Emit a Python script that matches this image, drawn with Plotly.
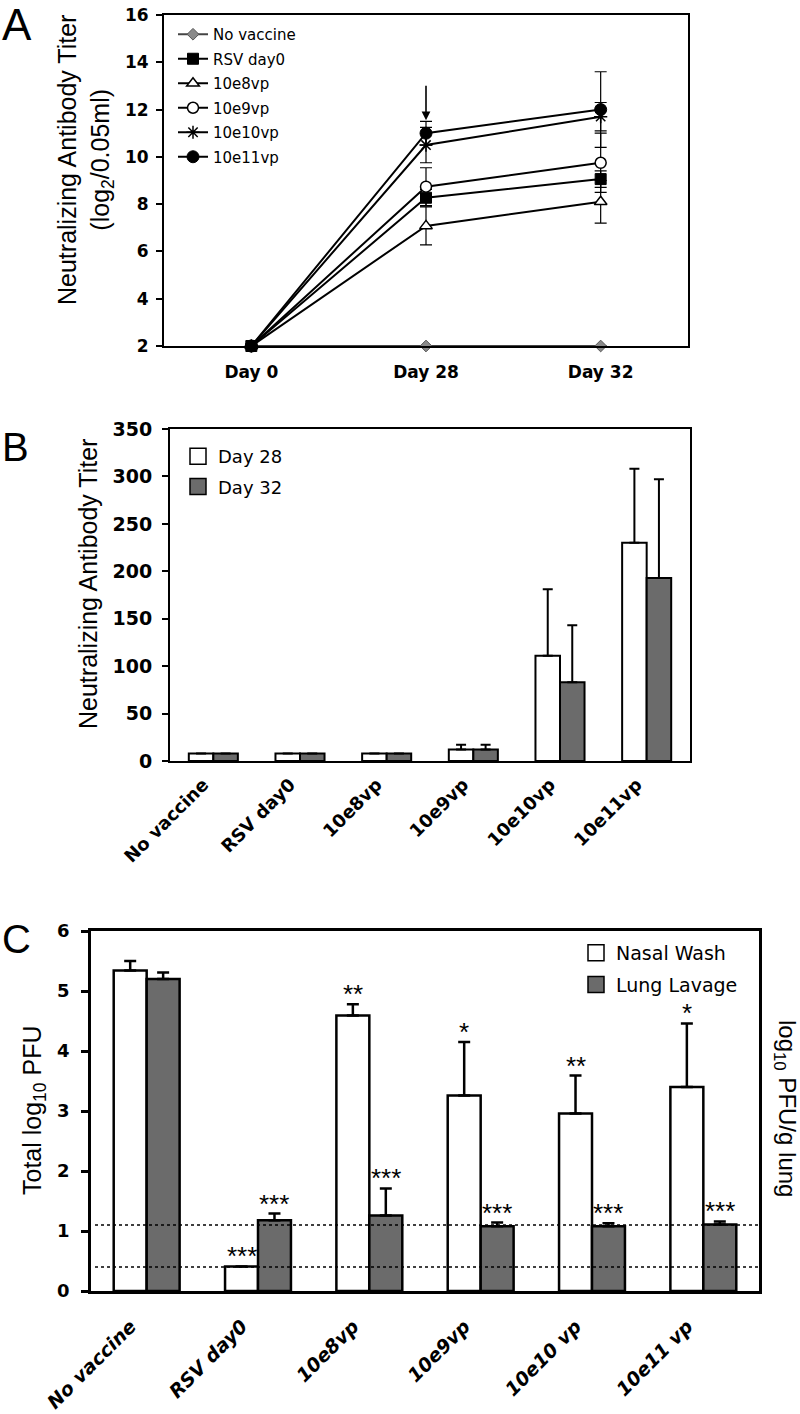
import plotly.graph_objects as go

W, H = 800, 1414

# ---------------- Data ----------------
# Panel A
days = ["Day 0", "Day 28", "Day 32"]
a_series = ["No vaccine", "RSV day0", "10e8vp", "10e9vp", "10e10vp", "10e11vp"]
a_no_vaccine = [2, 2, 2]
a_rsv = [2, 8.27, 9.06]
a_e8 = [2, 7.08, 8.1]
a_e9 = [2, 8.74, 9.75]
a_e10 = [2, 10.5, 11.7]
a_e11 = [2, 11.0, 12.0]
a_no_vaccine_err = [0, 0, 0]
a_rsv_err = [0, 0.35, 0.35]
a_e8_err = [0, 0.8, 0.9]
a_e9_err = [0, 0.8, 1.25]
a_e10_err = [0, 0.75, 0.6]
a_e11_err = [0, 0.5, 1.6]

# Panel B
groups = ["No vaccine", "RSV day0", "10e8vp", "10e9vp", "10e10vp", "10e11vp"]
b_day28 = [8, 8, 8, 12, 111, 230]
b_day28_err = [0, 0, 0, 5, 70, 78]
b_day32 = [8, 8, 8, 12, 83, 193]
b_day32_err = [0, 0, 0, 5, 60, 104]

# Panel C
c_groups = ["No vaccine", "RSV day0", "10e8vp", "10e9vp", "10e10 vp", "10e11 vp"]
c_nasal = [5.34, 0.41, 4.59, 3.26, 2.96, 3.40]
c_nasal_err = [0.16, 0, 0.19, 0.89, 0.63, 1.06]
c_lung = [5.20, 1.18, 1.26, 1.08, 1.08, 1.11]
c_lung_err = [0.11, 0.11, 0.45, 0.06, 0.05, 0.05]
c_nasal_sig = ["", "***", "**", "*", "**", "*"]
c_lung_sig = ["", "***", "***", "***", "***", "***"]
c_limits = [1.1, 0.4]

GREY = "#6b6b6b"
TICKFONT = "DejaVu Sans"
TITLEFONT = "Liberation Sans"


def px_x(p):
    return p / W


def px_y(p):
    return 1 - p / H


fig = go.Figure()

# ---------------- Panel A ----------------
a_values = [a_no_vaccine, a_rsv, a_e8, a_e9, a_e10, a_e11]
a_errs = [a_no_vaccine_err, a_rsv_err, a_e8_err, a_e9_err, a_e10_err, a_e11_err]
a_markers = [
    dict(symbol="diamond", size=9, color="#8a8a8a", line=dict(color="#555555", width=1)),
    dict(symbol="square", size=11, color="black", line=dict(color="black", width=1)),
    dict(symbol="triangle-up", size=11, color="white", line=dict(color="black", width=1.5)),
    dict(symbol="circle", size=11, color="white", line=dict(color="black", width=1.5)),
    dict(symbol="asterisk-open", size=11, color="black", line=dict(color="black", width=1.5)),
    dict(symbol="circle", size=12, color="black", line=dict(color="black", width=1)),
]
for i, (name, vals, errs, mk) in enumerate(zip(a_series, a_values, a_errs, a_markers)):
    fig.add_trace(go.Scatter(
        x=days, y=vals, name=name, mode="lines+markers",
        line=dict(color="black" if i else "#444444", width=2),
        marker=mk,
        error_y=dict(type="data", array=errs, visible=True, color="black", thickness=1.2, width=6),
        cliponaxis=False, legendgroup=f"a{i}", legend="legend",
        xaxis="x", yaxis="y",
    ))

# ---------------- Panel B ----------------
bw_b = 0.283
fig.add_trace(go.Bar(
    x=list(range(len(groups))), y=b_day28, width=bw_b, offset=-bw_b,
    marker=dict(color="white", line=dict(color="black", width=2)),
    error_y=dict(type="data", array=b_day28_err, arrayminus=[0] * 6, symmetric=False,
                 color="black", thickness=2, width=5),
    showlegend=False, xaxis="x2", yaxis="y2", name="Day 28",
))
fig.add_trace(go.Bar(
    x=list(range(len(groups))), y=b_day32, width=bw_b, offset=0,
    marker=dict(color=GREY, line=dict(color="black", width=2)),
    error_y=dict(type="data", array=b_day32_err, arrayminus=[0] * 6, symmetric=False,
                 color="black", thickness=2, width=5),
    showlegend=False, xaxis="x2", yaxis="y2", name="Day 32",
))
for name, col in [("Day 28", "white"), ("Day 32", GREY)]:
    fig.add_trace(go.Scatter(
        x=[None], y=[None], mode="markers", name=name,
        marker=dict(symbol="square", size=16, color=col, line=dict(color="black", width=1.5)),
        legend="legend2", legendgroup="b" + name, xaxis="x2", yaxis="y2",
    ))

# ---------------- Panel C ----------------
bw_c = 0.296
fig.add_trace(go.Bar(
    x=list(range(len(c_groups))), y=c_nasal, width=bw_c, offset=-bw_c,
    marker=dict(color="white", line=dict(color="black", width=2.5)),
    error_y=dict(type="data", array=c_nasal_err, arrayminus=[0] * 6, symmetric=False,
                 color="black", thickness=2.5, width=6),
    showlegend=False, xaxis="x3", yaxis="y3", name="Nasal Wash",
))
fig.add_trace(go.Bar(
    x=list(range(len(c_groups))), y=c_lung, width=bw_c, offset=0,
    marker=dict(color=GREY, line=dict(color="black", width=2.5)),
    error_y=dict(type="data", array=c_lung_err, arrayminus=[0] * 6, symmetric=False,
                 color="black", thickness=2.5, width=6),
    showlegend=False, xaxis="x3", yaxis="y3", name="Lung Lavage",
))
for name, col in [("Nasal Wash", "white"), ("Lung Lavage", GREY)]:
    fig.add_trace(go.Scatter(
        x=[None], y=[None], mode="markers", name=name,
        marker=dict(symbol="square", size=16, color=col, line=dict(color="black", width=1.5)),
        legend="legend3", legendgroup="c" + name, xaxis="x3", yaxis="y3",
    ))

# significance stars
annotations = []
for i in range(len(c_groups)):
    for sig, val, err, off in [(c_nasal_sig[i], c_nasal[i], c_nasal_err[i], -bw_c / 2),
                               (c_lung_sig[i], c_lung[i], c_lung_err[i], bw_c / 2)]:
        if sig:
            annotations.append(dict(
                x=i + off, y=val + err, xref="x3", yref="y3", text=sig, showarrow=False,
                xanchor="center", yanchor="bottom", yshift=-7,
                font=dict(family=TITLEFONT, size=26, color="black"),
            ))

# dotted limit lines
shapes = []
for lim in c_limits:
    shapes.append(dict(type="line", xref="x3 domain", yref="y3", x0=0.006, x1=1, y0=lim, y1=lim,
                       line=dict(color="black", width=1.5, dash="dot")))

# arrow in panel A
annotations.append(dict(x="Day 28", y=11.55, xref="x", yref="y", ax=0, ay=-36, text="",
                        showarrow=True, arrowhead=2, arrowsize=1.1, arrowwidth=1.6, arrowcolor="black"))

# panel letters
for letter, xx, yy, sz in [("A", 0, -2, 44), ("B", 0, 423, 40), ("C", 0, 915, 40)]:
    annotations.append(dict(x=px_x(xx), y=px_y(yy), xref="paper", yref="paper", text=letter,
                            showarrow=False, xanchor="left", yanchor="top",
                            font=dict(family=TITLEFONT, size=sz, color="black")))

# axis titles
annotations += [
    dict(x=px_x(85), y=px_y(160), xref="paper", yref="paper",
         text="Neutralizing Antibody Titer<br>(log<sub>2</sub>/0.05ml)", textangle=-90,
         showarrow=False, xanchor="center", yanchor="middle",
         font=dict(family=TITLEFONT, size=25, color="black")),
    dict(x=px_x(88), y=px_y(584), xref="paper", yref="paper",
         text="Neutralizing Antibody Titer", textangle=-90,
         showarrow=False, xanchor="center", yanchor="middle",
         font=dict(family=TITLEFONT, size=25, color="black")),
    dict(x=px_x(34), y=px_y(1110), xref="paper", yref="paper",
         text="Total log<sub>10</sub> PFU", textangle=-90,
         showarrow=False, xanchor="center", yanchor="middle",
         font=dict(family=TITLEFONT, size=25, color="black")),
    dict(x=px_x(786), y=px_y(1108), xref="paper", yref="paper",
         text="log<sub>10</sub> PFU/g lung", textangle=90,
         showarrow=False, xanchor="center", yanchor="middle",
         font=dict(family=TITLEFONT, size=24, color="black")),
]

axis_common = dict(showline=True, linecolor="black", mirror=True, showgrid=False, zeroline=False,
                   automargin=False)

fig.update_layout(
    width=W, height=H, margin=dict(l=0, r=0, t=0, b=0, autoexpand=False),
    paper_bgcolor="white", plot_bgcolor="white",
    barmode="overlay",
    # Panel A
    xaxis=dict(domain=[px_x(164), px_x(688)], anchor="y", range=[-0.5, 2.5], type="category",
               linewidth=2, ticks="", ticklabelstandoff=10,
               tickfont=dict(family=TICKFONT, size=17, weight="bold", color="black"), **axis_common),
    yaxis=dict(domain=[px_y(346), px_y(15)], anchor="x", range=[2, 16], dtick=2,
               linewidth=2, ticks="outside", ticklen=6, tickwidth=2, tickcolor="black",
               ticklabelstandoff=4,
               tickfont=dict(family=TICKFONT, size=17, weight="bold", color="black"), **axis_common),
    # Panel B
    xaxis2=dict(domain=[px_x(170), px_x(690)], anchor="y2", range=[-0.5, 5.5],
                tickvals=list(range(len(groups))), ticktext=groups, tickangle=-45,
                linewidth=2, ticks="", ticklabelstandoff=4, ticklabelshift=-10,
                tickfont=dict(family=TICKFONT, size=18, weight="bold", color="black"), **axis_common),
    yaxis2=dict(domain=[px_y(761), px_y(429)], anchor="x2", range=[0, 350], dtick=50,
                linewidth=2, ticks="outside", ticklen=6, tickwidth=2, tickcolor="black",
                ticklabelstandoff=6,
                tickfont=dict(family=TICKFONT, size=19, weight="bold", color="black"), **axis_common),
    # Panel C
    xaxis3=dict(domain=[px_x(91), px_x(759)], anchor="y3", range=[-0.5, 5.5],
                tickvals=list(range(len(c_groups))), ticktext=c_groups, tickangle=-45,
                linewidth=2.5, ticks="", ticklabelstandoff=14, ticklabelshift=-16,
                tickfont=dict(family=TICKFONT, size=19, weight="bold", style="italic", color="black"),
                **axis_common),
    yaxis3=dict(domain=[px_y(1291), px_y(931)], anchor="x3", range=[0, 6], dtick=1,
                linewidth=2.5, ticks="outside", ticklen=7, tickwidth=2.5, tickcolor="black",
                ticklabelstandoff=8,
                tickfont=dict(family=TICKFONT, size=18, weight="bold", color="black"), **axis_common),
    legend=dict(x=px_x(173), y=px_y(18), xanchor="left", yanchor="top", bgcolor="rgba(0,0,0,0)",
                font=dict(family=TICKFONT, size=15, color="black"), tracegroupgap=2,
                itemsizing="trace"),
    legend2=dict(x=px_x(178), y=px_y(438), xanchor="left", yanchor="top", bgcolor="rgba(0,0,0,0)",
                 font=dict(family=TICKFONT, size=18, color="black"), tracegroupgap=4),
    legend3=dict(x=px_x(576), y=px_y(934), xanchor="left", yanchor="top", bgcolor="rgba(0,0,0,0)",
                 font=dict(family=TICKFONT, size=19, color="black"), tracegroupgap=4),
    annotations=annotations,
    shapes=shapes,
)

fig.write_html("out.html", config={"displayModeBar": False},
               post_script="document.body.style.margin='0';")
